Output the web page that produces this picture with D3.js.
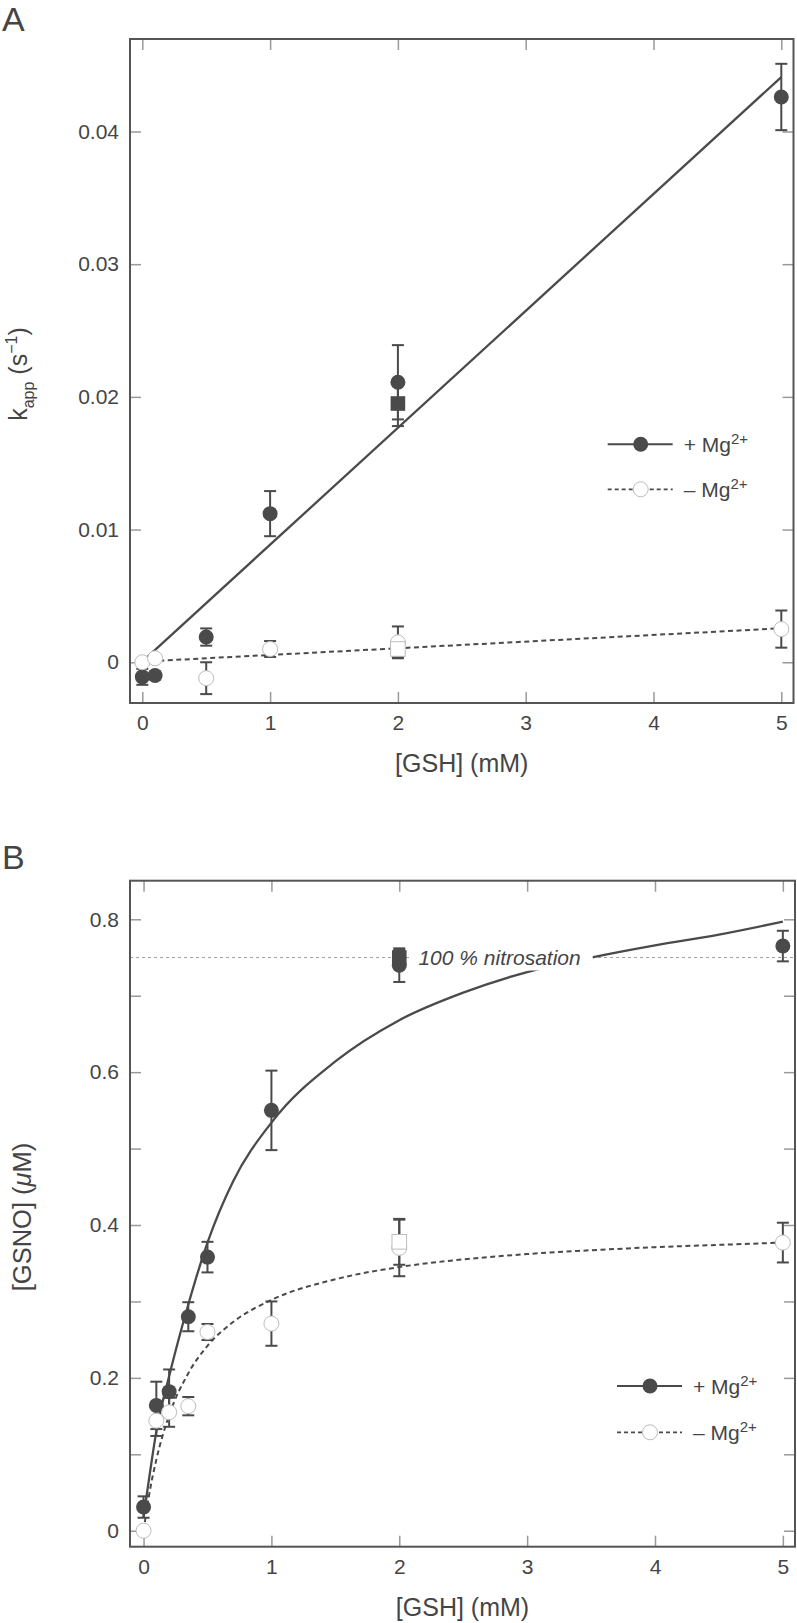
<!DOCTYPE html>
<html>
<head>
<meta charset="utf-8">
<script src="https://cdn.jsdelivr.net/npm/d3@7"></script>
<style>
  html, body { margin: 0; padding: 0; background: #fff; }
  svg { display: block; font-family: "Liberation Sans", Arial, Helvetica, sans-serif; }
</style>
</head>
<body>
<svg id="chart" width="797" height="1623"></svg>
<script>
// ---------- panel A : k_app vs [GSH] ----------
const gshA = [0, 0.1, 0.5, 1, 2, 5];
const kPlusMg = [-0.0011, -0.0010, 0.0019, 0.0112, 0.0211, 0.0426];
const kPlusMgErr = [0.0006, 0.0003, 0.00065, 0.0017, 0.0028, 0.0025];
const kMinusMg = [0.0000, 0.0003, -0.0012, 0.0010, 0.0015, 0.0025];
const kMinusMgErr = [0.0002, 0.0002, 0.0012, 0.0006, 0.0012, 0.0014];
// square symbols (second set at 2 mM)
const sqA_x = [2];
const sqA_plus = [0.0195];
const sqA_plusErr = [0.0017];
const sqA_minus = [0.0010];
const sqA_minusErr = [0.0006];
// linear fits
const fitA_x = [0, 5];
const fitA_plus = [0.00005, 0.0441];
const fitA_minus = [0.00005, 0.00256];
const xTicks = [0, 1, 2, 3, 4, 5];
const yTicksA = [0, 0.01, 0.02, 0.03, 0.04];

// ---------- panel B : [GSNO] vs [GSH] ----------
const gshB = [0, 0.1, 0.2, 0.35, 0.5, 1, 2, 5];
const gsnoPlusMg = [0.031, 0.164, 0.182, 0.280, 0.358, 0.550, 0.740, 0.765];
const gsnoPlusMgErr = [0.014, 0.031, 0.029, 0.019, 0.020, 0.052, 0.022, 0.020];
const gsnoMinusMg = [0.000, 0.144, 0.155, 0.163, 0.260, 0.271, 0.370, 0.377];
const gsnoMinusMgErr = [0.0, 0.020, 0.019, 0.012, 0.0105, 0.029, 0.037, 0.026];
const sqB_x = [2];
const sqB_plus = [0.750];
const sqB_plusErr = [0.010];
const sqB_minus = [0.378];
const sqB_minusErr = [0.030];
// saturation fits
const fitB_x = [0, 0.05, 0.1, 0.2, 0.35, 0.5, 0.7, 1, 1.5, 2, 2.5, 3, 3.5, 4, 4.5, 5];
const fitB_plus = [0.018, 0.076, 0.130, 0.202, 0.296, 0.377, 0.457, 0.534, 0.614, 0.668, 0.704, 0.731, 0.750, 0.766, 0.780, 0.797];
const fitB_minus = [0.0, 0.053, 0.093, 0.151, 0.206, 0.242, 0.273, 0.302, 0.329, 0.345, 0.355, 0.362, 0.367, 0.371, 0.374, 0.377];
const yTicksB = [0, 0.1, 0.2, 0.3, 0.4, 0.5, 0.6, 0.7, 0.8];
const nitrosation = 0.75;

const DARK = "#4a4a4a";
const TEXT = "#454545";
const TICK = "#9a9a9a";
const OPEN_STROKE = "#bdbdbd";

const svg = d3.select("#chart");

function zip(xs, ys, es) {
  return xs.map((x, i) => ({ x: x, y: ys[i], e: es ? es[i] : 0 }));
}

function drawPanel(p) {
  const x = d3.scaleLinear().domain(p.xDomain).range([p.left, p.right]);
  const y = d3.scaleLinear().domain(p.yDomain).range([p.bottom, p.top]);
  const g = svg.append("g");

  // ticks on all four sides, pointing inward
  const tickStyle = sel => {
    sel.select(".domain").remove();
    sel.selectAll(".tick line").attr("stroke", TICK).attr("stroke-width", 1.5);
    sel.selectAll(".tick text").attr("fill", TEXT).attr("font-size", 21);
  };
  g.append("g").attr("transform", `translate(0,${p.bottom})`)
    .call(d3.axisBottom(x).tickValues(xTicks).tickSize(-11).tickPadding(12).tickFormat(d3.format("d")))
    .call(tickStyle);
  g.append("g").attr("transform", `translate(0,${p.top})`)
    .call(d3.axisTop(x).tickValues(xTicks).tickSize(-11).tickFormat(""))
    .call(tickStyle);
  g.append("g").attr("transform", `translate(${p.left},0)`)
    .call(d3.axisLeft(y).tickValues(p.yTicks).tickSize(-11).tickPadding(11).tickFormat(p.yFormat))
    .call(tickStyle);
  g.append("g").attr("transform", `translate(${p.right},0)`)
    .call(d3.axisRight(y).tickValues(p.yTicks).tickSize(-11).tickFormat(""))
    .call(tickStyle);
  g.selectAll(".tick text").attr("font-family", "Liberation Sans, Arial, sans-serif");

  if (p.refLine != null) {
    g.append("line")
      .attr("x1", p.left).attr("x2", p.right)
      .attr("y1", y(p.refLine)).attr("y2", y(p.refLine))
      .attr("stroke", "#a0a0a0").attr("stroke-width", 1.2)
      .attr("stroke-dasharray", "3,3");
  }

  const line = d3.line().x(d => x(d.x)).y(d => y(d.y)).curve(p.curve);
  g.append("path").datum(zip(p.fitX, p.fitPlus))
    .attr("d", line).attr("fill", "none")
    .attr("stroke", DARK).attr("stroke-width", 2.3);
  g.append("path").datum(zip(p.fitX, p.fitMinus))
    .attr("d", line).attr("fill", "none")
    .attr("stroke", DARK).attr("stroke-width", 2)
    .attr("stroke-dasharray", "5,3.5");

  if (p.refLabel) {
    const lab = g.append("g");
    const bg = lab.append("rect").attr("fill", "#fff");
    const t = lab.append("text")
      .attr("x", x(p.refLabelX)).attr("y", y(p.refLine) + 7)
      .attr("font-size", 21).attr("font-style", "italic")
      .attr("fill", TEXT).text(p.refLabel);
    const bb = t.node().getBBox();
    bg.attr("x", bb.x - 9).attr("y", bb.y - 2)
      .attr("width", bb.width + 21).attr("height", bb.height + 4);
  }

  // error bars
  const all = []
    .concat(zip(p.xs, p.plus, p.plusErr))
    .concat(zip(p.xs, p.minus, p.minusErr))
    .concat(zip(p.sqX, p.sqPlus, p.sqPlusErr))
    .concat(zip(p.sqX, p.sqMinus, p.sqMinusErr))
    .filter(d => d.e > 0);
  const eb = g.append("g").attr("stroke", DARK).attr("stroke-width", 2);
  eb.selectAll("line.stem").data(all).join("line").attr("class", "stem")
    .attr("x1", d => x(d.x)).attr("x2", d => x(d.x))
    .attr("y1", d => y(d.y - d.e)).attr("y2", d => y(d.y + d.e));
  eb.selectAll("line.capT").data(all).join("line").attr("class", "capT")
    .attr("x1", d => x(d.x) - 6).attr("x2", d => x(d.x) + 6)
    .attr("y1", d => y(d.y + d.e)).attr("y2", d => y(d.y + d.e));
  eb.selectAll("line.capB").data(all).join("line").attr("class", "capB")
    .attr("x1", d => x(d.x) - 6).attr("x2", d => x(d.x) + 6)
    .attr("y1", d => y(d.y - d.e)).attr("y2", d => y(d.y - d.e));

  const R = 7.5, S = 14.6;
  g.selectAll("circle.plus").data(zip(p.xs, p.plus)).join("circle").attr("class", "plus")
    .attr("cx", d => x(d.x)).attr("cy", d => y(d.y)).attr("r", R).attr("fill", DARK);
  g.selectAll("rect.plus").data(zip(p.sqX, p.sqPlus)).join("rect").attr("class", "plus")
    .attr("x", d => x(d.x) - S / 2).attr("y", d => y(d.y) - S / 2)
    .attr("width", S).attr("height", S).attr("fill", DARK);
  g.selectAll("circle.minus").data(zip(p.xs, p.minus)).join("circle").attr("class", "minus")
    .attr("cx", d => x(d.x)).attr("cy", d => y(d.y)).attr("r", R)
    .attr("fill", "#fff").attr("stroke", OPEN_STROKE).attr("stroke-width", 1);
  g.selectAll("rect.minus").data(zip(p.sqX, p.sqMinus)).join("rect").attr("class", "minus")
    .attr("x", d => x(d.x) - S / 2).attr("y", d => y(d.y) - S / 2)
    .attr("width", S).attr("height", S)
    .attr("fill", "#fff").attr("stroke", OPEN_STROKE).attr("stroke-width", 1);

  // frame
  g.append("rect")
    .attr("x", p.left).attr("y", p.top)
    .attr("width", p.right - p.left).attr("height", p.bottom - p.top)
    .attr("fill", "none").attr("stroke", "#555").attr("stroke-width", 2);

  // legend
  const lg = g.append("g");
  const rows = [
    { sign: "+ Mg", dash: null, fill: DARK, stroke: "none" },
    { sign: "\u2013 Mg", dash: "4,3", fill: "#fff", stroke: OPEN_STROKE }
  ];
  rows.forEach((r, i) => {
    const ly = p.legendY + i * p.legendGap;
    lg.append("line")
      .attr("x1", p.legendX - 33).attr("x2", p.legendX + 32)
      .attr("y1", ly).attr("y2", ly)
      .attr("stroke", DARK).attr("stroke-width", r.dash ? 1.8 : 2)
      .attr("stroke-dasharray", r.dash);
    lg.append("circle").attr("cx", p.legendX).attr("cy", ly).attr("r", R)
      .attr("fill", r.fill).attr("stroke", r.stroke).attr("stroke-width", 1);
    const t = lg.append("text").attr("x", p.legendX + 43).attr("y", ly + 8)
      .attr("font-size", 21).attr("fill", TEXT);
    t.append("tspan").text(r.sign);
    t.append("tspan").attr("dy", -8).attr("font-size", 15).text("2+");
  });

  // x title
  g.append("text")
    .attr("x", (p.left + p.right) / 2).attr("y", p.bottom + 69)
    .attr("text-anchor", "middle").attr("font-size", 25).attr("fill", TEXT)
    .text("[GSH] (mM)");

  // panel letter
  g.append("text").attr("x", 2).attr("y", p.letterY)
    .attr("font-size", 34).attr("fill", TEXT).text(p.letter);

  return { x, y, g };
}

// ----- panel A -----
const fmtA = d => d === 0 ? "0" : d3.format(".2f")(d);
drawPanel({
  left: 130, right: 793.5, top: 39, bottom: 703,
  xDomain: [-0.0963, 5.0955], yDomain: [-0.00307, 0.04697],
  yTicks: yTicksA, yFormat: fmtA,
  xs: gshA, plus: kPlusMg, plusErr: kPlusMgErr, minus: kMinusMg, minusErr: kMinusMgErr,
  sqX: sqA_x, sqPlus: sqA_plus, sqPlusErr: sqA_plusErr, sqMinus: sqA_minus, sqMinusErr: sqA_minusErr,
  fitX: fitA_x, fitPlus: fitA_plus, fitMinus: fitA_minus, curve: d3.curveLinear,
  refLine: null,
  legendX: 640.7, legendY: 444.3, legendGap: 45,
  letter: "A", letterY: 31
});

const ytA = svg.append("text")
  .attr("transform", "translate(27,374) rotate(-90)")
  .attr("text-anchor", "middle").attr("font-size", 25).attr("fill", TEXT);
ytA.append("tspan").text("k");
ytA.append("tspan").attr("dy", 7).attr("font-size", 16).text("app");
ytA.append("tspan").attr("dy", -7).text(" (s");
ytA.append("tspan").attr("dy", -10).attr("font-size", 16).text("\u22121");
ytA.append("tspan").attr("dy", 10).text(")");

// ----- panel B -----
const fmtB = d => d === 0 ? "0" : (Math.round(d * 10) % 2 === 0 ? d3.format(".1f")(d) : "");
drawPanel({
  left: 130, right: 795, top: 880.7, bottom: 1546.7,
  xDomain: [-0.106, 5.095], yDomain: [-0.0209, 0.8505],
  yTicks: yTicksB, yFormat: fmtB,
  xs: gshB, plus: gsnoPlusMg, plusErr: gsnoPlusMgErr, minus: gsnoMinusMg, minusErr: gsnoMinusMgErr,
  sqX: sqB_x, sqPlus: sqB_plus, sqPlusErr: sqB_plusErr, sqMinus: sqB_minus, sqMinusErr: sqB_minusErr,
  fitX: fitB_x, fitPlus: fitB_plus, fitMinus: fitB_minus, curve: d3.curveMonotoneX,
  refLine: nitrosation, refLabel: "100 % nitrosation", refLabelX: 2.15,
  legendX: 650, legendY: 1386, legendGap: 46.3,
  letter: "B", letterY: 869
});

const ytB = svg.append("text")
  .attr("transform", "translate(31,1217) rotate(-90)")
  .attr("text-anchor", "middle").attr("font-size", 25.5).attr("fill", TEXT);
ytB.append("tspan").text("[GSNO] (");
ytB.append("tspan").attr("font-style", "italic").text("\u03bc");
ytB.append("tspan").text("M)");
</script>
</body>
</html>
